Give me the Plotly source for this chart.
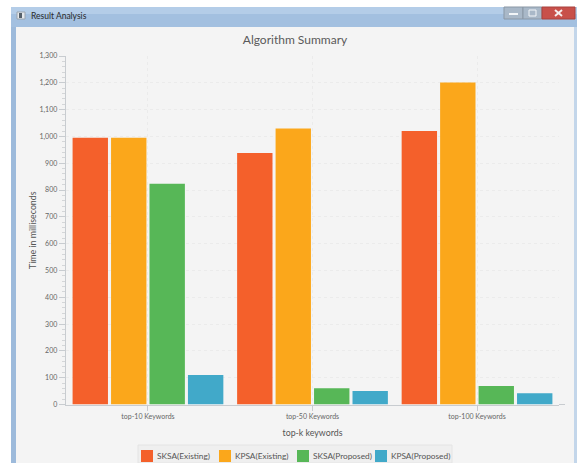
import plotly.graph_objects as go

W, H = 577, 463

categories = ["top-10 Keywords", "top-50 Keywords", "top-100 Keywords"]
sksa_existing = [995, 938, 1020]
kpsa_existing = [995, 1030, 1201]
sksa_proposed = [823, 61, 69]
kpsa_proposed = [110, 50, 42]

series_names = ["SKSA(Existing)", "KPSA(Existing)", "SKSA(Proposed)", "KPSA(Proposed)"]
series_values = [sksa_existing, kpsa_existing, sksa_proposed, kpsa_proposed]
series_colors = ["#f4602b", "#fba71b", "#57b757", "#41a9c9"]

FONT = "Lato"


def px(x0, y0, x1, y1, **kw):
    """Rectangle given in window pixels, placed on the paper coordinate system."""
    return dict(type="rect", xref="paper", yref="paper", layer="below",
                x0=x0 / W, x1=x1 / W, y0=1 - y0 / H, y1=1 - y1 / H, **kw)


def seg(x0, y0, x1, y1, **kw):
    """Line segment given in window pixels, placed on the paper coordinate system."""
    return dict(type="line", xref="paper", yref="paper", layer="below",
                x0=x0 / W, x1=x1 / W, y0=1 - y0 / H, y1=1 - y1 / H, **kw)


fig = go.Figure()
for name, values, color in zip(series_names, series_values, series_colors):
    fig.add_trace(go.Bar(name=name, x=categories, y=values, showlegend=False,
                         marker=dict(color=color, line=dict(width=0))))

# Application window: title bar, borders, content pane and caption buttons
shapes = [
    px(11, 7, 577, 27, fillcolor="#a3c0e0", line_width=0),
    px(11, 7, 577, 14, fillcolor="#b4cde8", line_width=0),
    px(11, 27, 16, 463, fillcolor="#9dbadb", line_width=0),
    px(574, 27, 577, 463, fillcolor="#c3d6ea", line_width=0),
    px(16, 27, 574, 463, fillcolor="#f4f4f4", line_width=0),
    px(17, 12, 25, 19, fillcolor="#e4e8ec", line=dict(color="#9aa4ae", width=1)),
    px(19, 13, 22, 18, fillcolor="#55606a", line_width=0),
    px(504, 7, 523, 19, fillcolor="#a9b8c8", line=dict(color="#8a97a5", width=1)),
    px(523, 7, 542, 19, fillcolor="#a9b8c8", line=dict(color="#8a97a5", width=1)),
    px(542, 7, 575, 19, fillcolor="#c8504a", line=dict(color="#a8403c", width=1)),
    px(509, 13, 518, 15, fillcolor="#f2f5f8", line_width=0),
    px(529, 10, 536, 16, fillcolor="rgba(0,0,0,0)", line=dict(color="#f2f5f8", width=1)),
    seg(555, 10, 562, 16, line=dict(color="#f6eeee", width=2)),
    seg(562, 10, 555, 16, line=dict(color="#f6eeee", width=2)),
    # Category axis line runs a little past the last band
    seg(559, 404.5, 565, 404.5, line=dict(color="#c8ccd0", width=1)),
    # Legend panel
    px(138, 445, 452, 463, fillcolor="#efefef", line=dict(color="#e4e4e4", width=1)),
]

annotations = [
    dict(text="Result Analysis", xref="paper", yref="paper", showarrow=False,
         x=29 / W, xanchor="left", y=1 - 16 / H, yanchor="middle",
         font=dict(size=8.5, color="#2a2a2a", family=FONT)),
]

# Legend row: one swatch and label per series, evenly stepped across the panel
LEGEND_LEFT, LEGEND_STEP = 141, 78
for i, (name, color) in enumerate(zip(series_names, series_colors)):
    left = LEGEND_LEFT + i * LEGEND_STEP
    shapes.append(px(left, 450, left + 12, 462, fillcolor=color, line_width=0))
    annotations.append(dict(text=name, xref="paper", yref="paper", showarrow=False,
                            x=(left + 14) / W, xanchor="left",
                            y=1 - 456 / H, yanchor="middle",
                            font=dict(size=8.3, color="#555555", family=FONT)))

fig.update_layout(
    width=W, height=H,
    margin=dict(l=0, r=0, t=0, b=0),
    autosize=False,
    paper_bgcolor="#ffffff",
    plot_bgcolor="rgba(0,0,0,0)",
    font=dict(family=FONT, color="#555555"),
    barmode="group",
    bargap=0.065,
    bargroupgap=0.08,
    shapes=shapes,
    annotations=annotations,
    showlegend=False,
    title=dict(
        text="Algorithm Summary",
        x=295 / W, xanchor="center",
        y=1 - 40 / H, yanchor="middle",
        font=dict(size=12, color="#5a5a5a", family=FONT),
    ),
    xaxis=dict(
        domain=[65.7 / W, 559.3 / W],
        range=[-0.5, 2.5],
        automargin=False,
        showline=True, linecolor="#c8ccd0", linewidth=1,
        ticks="outside", ticklen=5, tickcolor="#c8ccd0",
        showgrid=True, gridcolor="#ebebeb", griddash="dot",
        tickfont=dict(size=7, color="#666666", family=FONT),
        title=dict(text="top-k keywords", standoff=10,
                   font=dict(size=8.8, color="#555555", family=FONT)),
    ),
    yaxis=dict(
        domain=[1 - 404.5 / H, 1 - 56 / H],
        range=[0, 1300],
        dtick=100,
        tickformat=",",
        automargin=False,
        showline=True, linecolor="#c8ccd0", linewidth=1,
        ticks="outside", ticklen=6, tickcolor="#c8ccd0",
        showgrid=True, gridcolor="#ebebeb", griddash="dot",
        zeroline=False,
        minor=dict(dtick=20, ticks="outside", ticklen=3, tickcolor="#d4d6d8", showgrid=False),
        tickfont=dict(size=7, color="#666666", family=FONT),
        title=dict(text="Time in milliseconds", standoff=1,
                   font=dict(size=8.8, color="#555555", family=FONT)),
    ),
)

fig.write_html("out.html")
